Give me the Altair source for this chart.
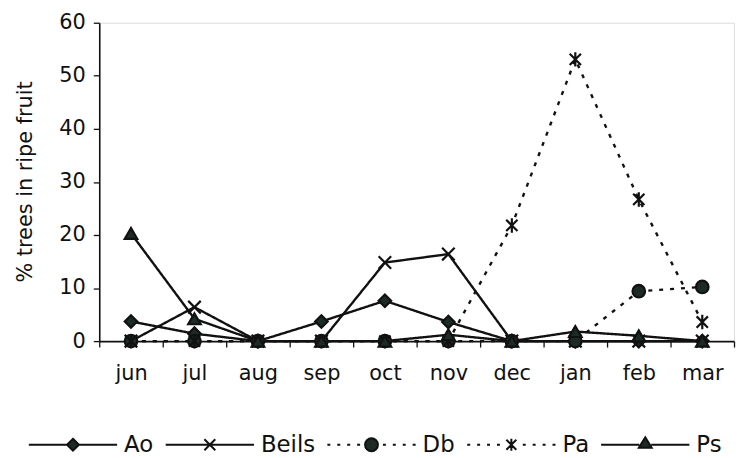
import altair as alt
import pandas as pd

months = ["jun", "jul", "aug", "sep", "oct", "nov", "dec", "jan", "feb", "mar"]
series = ["Ao", "Beils", "Db", "Pa", "Ps"]
ao = [3.7, 1.4, 0, 3.7, 7.6, 3.6, 0, 0, 0, 0]
beils = [0, 6.4, 0, 0, 14.8, 16.4, 0, 0, 0, 0]
db = [0, 0, 0, 0, 0, 0, 0, 0, 9.4, 10.2]
pa = [0, 0, 0, 0, 0, 0, 21.8, 53.1, 26.7, 3.6]
ps = [20.3, 4.2, 0, 0, 0, 1.2, 0, 1.8, 1.0, 0]

values = {"Ao": ao, "Beils": beils, "Db": db, "Pa": pa, "Ps": ps}
rows = []
for s in series:
    for m, v in zip(months, values[s]):
        rows.append({"month": m, "series": s, "value": v})
df = pd.DataFrame(rows)

FONT = "DejaVu Sans"
INK = "#111111"
FILL = "#1c2b23"

dashes = [[1, 0], [1, 0], [4, 7], [4, 7], [1, 0]]
plot_shapes = [
    "diamond",
    "M-1,-1L1,1M-1,1L1,-1",
    "circle",
    "M-0.9,-0.9L0.9,0.9M-0.9,0.9L0.9,-0.9M0,-1.15L0,1.15",
    "triangle-up",
]

def dots(side):
    out = ""
    for c in [2.6, 4.6, 6.6, 8.6]:
        a = side * c
        out += f"M{a - 0.3:.2f},0L{a + 0.3:.2f},0"
    return out

solid = "M-8.9,0L-1.2,0M1.2,0L8.9,0"
legend_shapes = [
    solid + "M0,-1.2L1.2,0L0,1.2L-1.2,0Z",
    "M-8.9,0L8.9,0M-1.1,-1.1L1.1,1.1M-1.1,1.1L1.1,-1.1",
    dots(-1) + dots(1) + "M-1.3,0A1.3,1.3 0 1,0 1.3,0A1.3,1.3 0 1,0 -1.3,0Z",
    dots(-1) + dots(1) + "M-1,-1L1,1M-1,1L1,-1M0,-1.2L0,1.2",
    solid + "M0,-1.5L1.3,0.6L-1.3,0.6Z",
]

x_enc = alt.X(
    "month:N",
    sort=months,
    scale=alt.Scale(type="band", paddingInner=0, paddingOuter=0),
    axis=alt.Axis(
        title=None,
        labelAngle=0,
        tickBand="extent",
        tickSize=6,
        labelPadding=16,
        labelFontSize=21,
        labelFont=FONT,
        labelColor=INK,
        domainColor=INK,
        tickColor=INK,
        domainWidth=1.6,
        tickWidth=1.3,
    ),
)
y_enc = alt.Y(
    "value:Q",
    scale=alt.Scale(domain=[0, 60], nice=False),
    axis=alt.Axis(
        title="% trees in ripe fruit",
        values=[0, 10, 20, 30, 40, 50, 60],
        grid=False,
        tickSize=6,
        labelPadding=8,
        labelFontSize=21,
        labelFont=FONT,
        labelColor=INK,
        domainColor=INK,
        tickColor=INK,
        domainWidth=1.6,
        tickWidth=1.3,
        titleFont=FONT,
        titleFontSize=21,
        titleFontWeight="normal",
        titleColor=INK,
        titleX=-74,
        titleY=160,
        titleAngle=-90,
        titleBaseline="middle",
        titleAlign="center",
    ),
)

base = alt.Chart(df)

lines = base.mark_line(strokeWidth=2.4, color=INK).encode(
    x=x_enc,
    y=y_enc,
    detail="series:N",
    strokeDash=alt.StrokeDash(
        "series:N", scale=alt.Scale(domain=series, range=dashes), legend=None
    ),
)

points = base.mark_point(
    filled=True, size=160, fill=FILL, stroke=INK, strokeWidth=2.2, opacity=1
).encode(
    x=x_enc,
    y=y_enc,
    shape=alt.Shape(
        "series:N", scale=alt.Scale(domain=series, range=plot_shapes), legend=None
    ),
)

legend_layer = base.transform_filter("false").mark_point(
    filled=False, size=100, fill=FILL, stroke=INK, strokeWidth=2
).encode(
    x=x_enc,
    y=y_enc,
    shape=alt.Shape(
        "series:N",
        scale=alt.Scale(domain=series, range=legend_shapes),
        legend=alt.Legend(
            title=None,
            orient="none",
            direction="horizontal",
            columns=5,
            gridAlign="none",
            legendX=-38,
            legendY=414,
            symbolSize=100,
            symbolStrokeWidth=2,
            symbolOpacity=1,
            labelOffset=40,
            columnPadding=8,
            labelFont=FONT,
            labelFontSize=23,
            labelColor=INK,
        ),
    ),
)

chart = (
    alt.layer(lines, points, legend_layer)
    .resolve_scale(shape="independent")
    .properties(
        width=640,
        height=321,
        autosize=alt.AutoSizeParams(type="none"),
        padding={"left": 92, "top": 13, "right": 2, "bottom": 116},
    )
    .configure_view(stroke=None)
    .configure(background="white")
)

chart.save("out.html", embed_options={"renderer": "svg", "actions": False})
